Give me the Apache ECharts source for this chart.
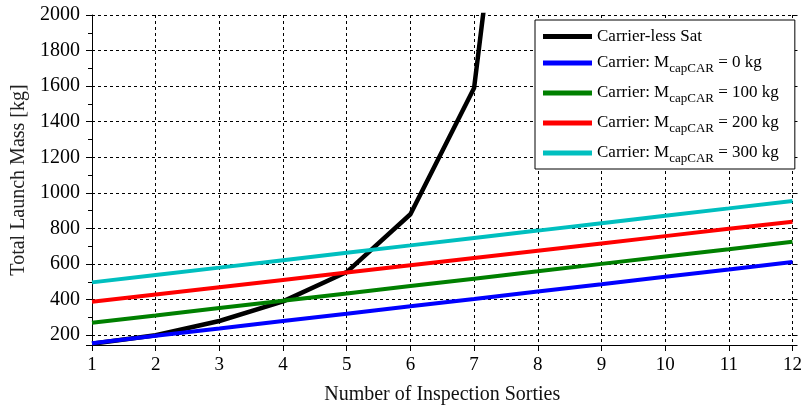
<!DOCTYPE html>
<html>
<head>
<meta charset="utf-8">
<script src="https://cdn.jsdelivr.net/npm/echarts@6/dist/echarts.min.js"></script>
<style>
  html, body { margin: 0; padding: 0; background: #fff; }
  #chart { width: 805px; height: 410px; }
</style>
</head>
<body>
<div id="chart"></div>
<script>
// sorties 1..12
var sorties = [1, 2, 3, 4, 5, 6, 7, 8, 9, 10, 11, 12];

var carrierLess = [152, 200, 280, 390, 555, 880, 1590, 4500];
var carrier0   = [155, 197, 238, 280, 321, 363, 404, 446, 487, 529, 570, 612];
var carrier100 = [270, 311, 353, 394, 435, 477, 518, 559, 601, 642, 683, 725];
var carrier200 = [388, 429, 470, 511, 552, 593, 634, 675, 716, 757, 798, 838];
var carrier300 = [497, 539, 580, 622, 664, 705, 747, 788, 830, 872, 913, 955];

var seriesNames = [
    'Carrier-less Sat',
    'Carrier: MsubcapCAR = 0 kg',
    'Carrier: MsubcapCAR = 100 kg',
    'Carrier: MsubcapCAR = 200 kg',
    'Carrier: MsubcapCAR = 300 kg'
];
var seriesData = [carrierLess, carrier0, carrier100, carrier200, carrier300];
var colors = ['#000000', '#0000ff', '#008000', '#ff0000', '#00bfbf'];

var font = '"Liberation Serif", "Times New Roman", serif';

function pairs(vals){
    var out = [];
    for (var i = 0; i < vals.length; i++) {
        out.push([sorties[i], vals[i]]);
    }
    return out;
}

var series = [];
for (var k = 0; k < seriesNames.length; k++) {
    series.push({
        name: seriesNames[k],
        type: 'line',
        data: pairs(seriesData[k]),
        symbol: 'none',
        clip: true,
        z: k == 0 ? 1 : 2,
        lineStyle: { color: colors[k], width: k == 0 ? 4.5 : 4 },
        itemStyle: { color: colors[k] }
    });
}

var chartDom = document.getElementById('chart');
var myChart = echarts.init(chartDom);
var option;

var dashed = { show: true, lineStyle: { color: '#000', type: [3, 3], width: 1 } };

option = {
    animation: false,
    textStyle: { fontFamily: font },
    grid: { left: 92, right: 12, top: 15, bottom: 57 },
    legend: {
        left: 535,
        top: 20,
        orient: 'vertical',
        itemWidth: 49,
        itemHeight: 5,
        itemGap: 6,
        icon: 'rect',
        backgroundColor: '#fff',
        borderColor: '#000',
        borderWidth: 1,
        padding: [8, 16, 4, 8],
        data: seriesNames,
        formatter: function(name){
            if (name.indexOf('Msub') < 0) return '{n|' + name + '}';
            var parts = name.split('Msub');
            var rest = parts[1].replace('capCAR', '');
            return '{n|' + parts[0] + 'M}{s|capCAR}{n|' + rest + '}';
        },
        textStyle: {
            fontFamily: font,
            color: '#000',
            rich: {
                n: { fontSize: 17, fontFamily: font, color: '#000', lineHeight: 18 },
                s: { fontSize: 13, fontFamily: font, color: '#000', padding: [11, 0, 0, 0], lineHeight: 18 }
            }
        }
    },
    xAxis: {
        type: 'value',
        min: 1,
        max: 12,
        interval: 1,
        name: 'Number of Inspection Sorties',
        nameLocation: 'middle',
        nameGap: 40,
        nameTextStyle: { fontFamily: font, fontSize: 20, color: '#111' },
        axisLine: { lineStyle: { color: '#000', width: 1 } },
        axisTick: { inside: false, length: 6, lineStyle: { color: '#000' } },
        axisLabel: { fontFamily: font, fontSize: 19, color: '#000', margin: 11 },
        splitLine: dashed
    },
    yAxis: [{
        type: 'value',
        min: 145,
        max: 2000,
        splitNumber: 9,
        name: 'Total Launch Mass [kg]',
        nameLocation: 'middle',
        nameGap: 61,
        nameTextStyle: { fontFamily: font, fontSize: 20, color: '#222' },
        axisLine: { show: true, lineStyle: { color: '#000', width: 1 } },
        axisTick: { show: true, length: 6, lineStyle: { color: '#000' } },
        minorTick: { show: true, splitNumber: 2, length: 4, lineStyle: { color: '#000' } },
        axisLabel: {
            fontFamily: font, fontSize: 20, color: '#000', margin: 12,
            formatter: function(v){ return (v % 200 === 0) ? String(v) : ''; }
        },
        splitLine: dashed
    }, {
        type: 'value',
        position: 'right',
        min: 145,
        max: 2000,
        splitNumber: 9,
        axisLine: { show: false },
        axisTick: { show: true, length: 5, lineStyle: { color: '#000' } },
        axisLabel: { show: false },
        splitLine: { show: false }
    }],
    series: series
};

option && myChart.setOption(option);
</script>
</body>
</html>
